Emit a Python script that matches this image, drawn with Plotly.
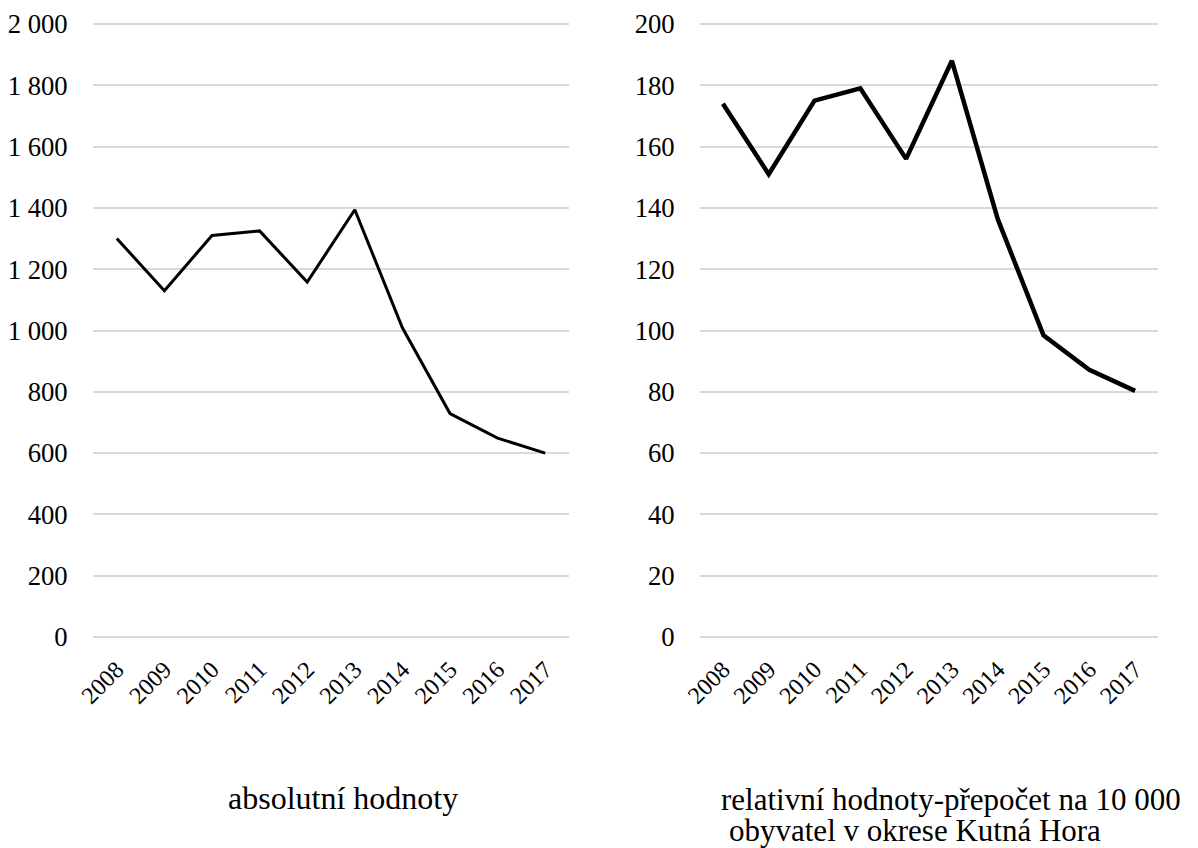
import plotly.graph_objects as go

years = ["2008", "2009", "2010", "2011", "2012", "2013", "2014", "2015", "2016", "2017"]
absolute_values = [1300, 1130, 1310, 1325, 1158, 1394, 1009, 729, 649, 600]
relative_values = [174, 151, 175, 179, 156, 188, 136.4, 98.4, 87.2, 80.3]

label_left = "absolutní hodnoty"
label_right_1 = "relativní hodnoty-přepočet na 10 000"
label_right_2 = "obyvatel v okrese Kutná Hora"

# the page body has an 8px margin, so the figure is drawn 8px in from the corner
OFF = 8
W, H = 1198 - OFF, 848 - OFF
FONT = "Liberation Serif"
GRID = "#d9d9d9"


def px_x(v):
    return (v - OFF) / W


def px_y(v):
    return 1 - (v - OFF) / H


fig = go.Figure()

fig.add_trace(go.Scatter(
    x=years, y=absolute_values, mode="lines",
    line=dict(color="black", width=3),
    xaxis="x", yaxis="y", showlegend=False,
))

fig.add_trace(go.Scatter(
    x=years, y=relative_values, mode="lines",
    line=dict(color="black", width=4.5),
    xaxis="x2", yaxis="y2", showlegend=False,
))

# small padding on the value range so the end gridlines (0 and max) are kept
pad_px = 2
y_domain = [px_y(637 + pad_px), px_y(24 - pad_px)]
pad_frac = pad_px / 613

xaxis_common = dict(
    type="category", range=[-0.5, 9.5], tickangle=-45,
    showgrid=False, showline=False, zeroline=False, automargin=False,
    ticks="outside", ticklen=6, tickcolor="rgba(0,0,0,0)",
    tickfont=dict(family=FONT, size=24, color="black"),
)
yaxis_common = dict(
    showgrid=True, gridcolor=GRID, gridwidth=1.5,
    showline=False, zeroline=False, automargin=False,
    ticks="outside", ticklen=19, tickcolor="rgba(0,0,0,0)",
    tickfont=dict(family=FONT, size=26.7, color="black"),
    tickformat=",d", domain=y_domain,
)

fig.update_layout(
    width=W, height=H,
    margin=dict(l=0, r=0, t=0, b=0),
    paper_bgcolor="white", plot_bgcolor="white",
    separators=", ",
    xaxis=dict(xaxis_common, domain=[px_x(93), px_x(569)], anchor="y"),
    yaxis=dict(yaxis_common, range=[-2000 * pad_frac, 2000 * (1 + pad_frac)],
               tick0=0, dtick=200, anchor="x"),
    xaxis2=dict(xaxis_common, domain=[px_x(700), px_x(1158)], anchor="y2"),
    yaxis2=dict(yaxis_common, range=[-200 * pad_frac, 200 * (1 + pad_frac)],
                tick0=0, dtick=20, anchor="x2"),
)

label_font = dict(family=FONT, size=31, color="black")
fig.add_annotation(
    text=label_left, xref="paper", yref="paper",
    x=px_x(342.5), y=px_y(798), xanchor="center", yanchor="middle",
    showarrow=False, font=dict(label_font, size=32),
)
fig.add_annotation(
    text=label_right_1, xref="paper", yref="paper",
    x=px_x(719), y=px_y(799), xanchor="left", yanchor="middle",
    showarrow=False, font=label_font,
)
fig.add_annotation(
    text=label_right_2, xref="paper", yref="paper",
    x=px_x(727), y=px_y(830), xanchor="left", yanchor="middle",
    showarrow=False, font=label_font,
)

fig.write_html("out.html")
